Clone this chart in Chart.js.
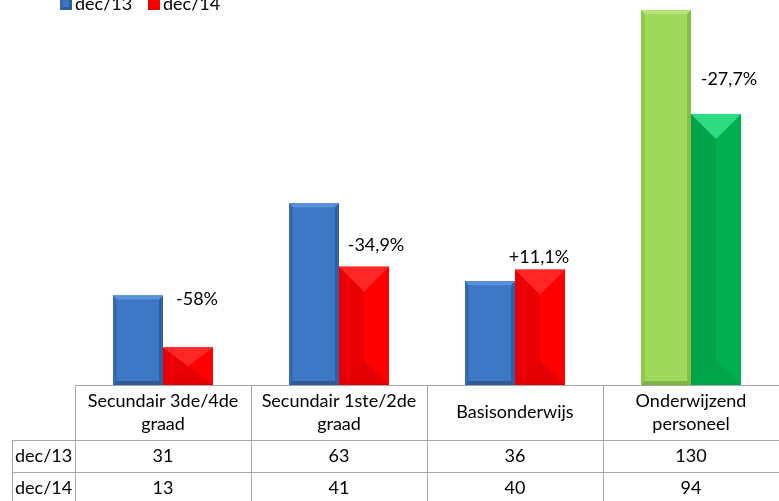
<!DOCTYPE html>
<html>
<head>
<meta charset="UTF-8">
<script src="https://cdn.jsdelivr.net/npm/chart.js"></script>
<style>
    html, body { margin: 0; padding: 0; background: #fff; }
    #wrap { width: 779px; height: 501px; position: relative; }
</style>
</head>
<body>
<div id="wrap"><canvas id="c" width="779" height="501"></canvas></div>
<script>
// gegevens
const categories = [
    ['Secundair 3de/4de', 'graad'],
    ['Secundair 1ste/2de', 'graad'],
    ['Basisonderwijs'],
    ['Onderwijzend', 'personeel']
];
const seriesNames = ['dec/13', 'dec/14'];
const dec13 = [31, 63, 36, 130];
const dec14 = [13, 41, 40, 94];
const changeLabels = ['-58%', '-34,9%', '+11,1%', '-27,7%'];

const FONT = '"Lato", "Open Sans", sans-serif';

// kleuren: [basis, boven, links, rechts, onder]
const blue = ['#3d78c6', '#5890da', '#3569b2', '#30609f', '#2e5b98'];
const red = ['#ff0000', '#ff2626', '#ea0000', '#ff0000', '#e40000'];
const lightGreen = ['#9ed95b', '#b4e47a', '#8cc84b', '#86be48', '#7fb444'];
const darkGreen = ['#00b050', '#2cdc82', '#00a24a', '#00b050', '#00a449'];
const colors0 = [blue, blue, blue, lightGreen];
const colors1 = [red, red, red, darkGreen];

// positie van de procentlabels t.o.v. de tweede balk
const labelOffsets = [[9, 48], [12, 22], [-1, 12], [13, 35]];

function bevelBar(ctx, x0, y0, x1, y1, c, b) {
    const w = x1 - x0, h = y1 - y0;
    const bx = Math.min(b, w / 2), by = Math.min(b, h / 2);
    const ix0 = x0 + bx, ix1 = x1 - bx, iy0 = y0 + by, iy1 = y1 - by;
    ctx.fillStyle = c[0];
    ctx.fillRect(x0, y0, w, h);
    const poly = (pts, col) => {
        ctx.beginPath();
        ctx.moveTo(pts[0][0], pts[0][1]);
        for (let i = 1; i < pts.length; i++) ctx.lineTo(pts[i][0], pts[i][1]);
        ctx.closePath();
        ctx.fillStyle = col;
        ctx.fill();
    };
    poly([[x0, y0], [x0, y1], [ix0, iy1], [ix0, iy0]], c[2]);
    poly([[x1, y0], [x1, y1], [ix1, iy1], [ix1, iy0]], c[3]);
    poly([[x0, y1], [x1, y1], [ix1, iy1], [ix0, iy1]], c[4]);
    poly([[x0, y0], [x1, y0], [ix1, iy0], [ix0, iy0]], c[1]);
}

const bevelPlugin = {
    id: 'bevel',
    afterDatasetsDraw(chart) {
        const ctx = chart.ctx;
        ctx.save();
        chart.data.datasets.forEach((ds, di) => {
            const meta = chart.getDatasetMeta(di);
            meta.data.forEach((el, i) => {
                const x0 = el.x - el.width / 2, x1 = el.x + el.width / 2;
                const c = di === 0 ? colors0[i] : colors1[i];
                bevelBar(ctx, x0, el.y, x1, el.base, c, di === 0 ? 4 : 25);
            });
        });
        ctx.restore();
    }
};

const tablePlugin = {
    id: 'tabel',
    afterDraw(chart) {
        const ctx = chart.ctx;
        const area = chart.chartArea;
        const xs = chart.scales.x;
        const top = area.bottom;
        const headH = 55, rowH = 32;
        const labelLeft = 12;
        const step = (area.right - area.left) / categories.length;
        ctx.save();
        ctx.strokeStyle = '#a6a6a6';
        ctx.lineWidth = 1;
        ctx.beginPath();
        // horizontale lijnen
        ctx.moveTo(area.left, top + 0.5); ctx.lineTo(area.right, top + 0.5);
        ctx.moveTo(labelLeft, top + headH + 0.5); ctx.lineTo(area.right, top + headH + 0.5);
        ctx.moveTo(labelLeft, top + headH + rowH + 0.5); ctx.lineTo(area.right, top + headH + rowH + 0.5);
        // verticale lijnen
        for (let i = 0; i <= categories.length; i++) {
            const x = Math.round(area.left + i * step) + 0.5;
            ctx.moveTo(x, top); ctx.lineTo(x, top + headH + 2 * rowH + 5);
        }
        ctx.moveTo(labelLeft + 0.5, top + headH); ctx.lineTo(labelLeft + 0.5, top + headH + 2 * rowH + 5);
        ctx.stroke();

        ctx.fillStyle = '#000';
        ctx.font = '18px ' + FONT;
        ctx.textAlign = 'center';
        ctx.textBaseline = 'middle';
        categories.forEach((lines, i) => {
            const cx = xs.getPixelForValue(i);
            const lh = 23;
            const y0 = top + headH / 2 - (lines.length - 1) * lh / 2;
            lines.forEach((t, k) => ctx.fillText(t, cx, y0 + k * lh));
            ctx.fillText(String(dec13[i]), cx, top + headH + rowH / 2);
            ctx.fillText(String(dec14[i]), cx, top + headH + rowH * 1.5);
        });
        ctx.textAlign = 'left';
        ctx.fillText(seriesNames[0], labelLeft + 3, top + headH + rowH / 2);
        ctx.fillText(seriesNames[1], labelLeft + 3, top + headH + rowH * 1.5);

        // procentlabels
        const meta1 = chart.getDatasetMeta(1);
        ctx.textAlign = 'center';
        changeLabels.forEach((t, i) => {
            const el = meta1.data[i];
            ctx.fillText(t, el.x + labelOffsets[i][0], el.y - labelOffsets[i][1]);
        });

        // legenda
        const legend = [[60, seriesNames[0], blue], [148, seriesNames[1], red]];
        legend.forEach(([lx, name, c]) => {
            bevelBar(ctx, lx, -3, lx + 12, 10, c, 3);
            ctx.fillStyle = '#000';
            ctx.textAlign = 'left';
            ctx.textBaseline = 'alphabetic';
            ctx.fillText(name, lx + 15, 9.5);
        });
        ctx.restore();
    }
};

new Chart(document.getElementById('c'), {
    type: 'bar',
    data: {
        labels: categories,
        datasets: [
            { label: seriesNames[0], data: dec13, backgroundColor: colors0.map(c => c[0]) },
            { label: seriesNames[1], data: dec14, backgroundColor: colors1.map(c => c[0]) }
        ]
    },
    options: {
        responsive: false,
        animation: false,
        layout: { padding: { left: 75, right: 0, top: 0, bottom: 116 } },
        datasets: { bar: { categoryPercentage: 100 / 176, barPercentage: 1 } },
        scales: {
            x: { display: false },
            y: { display: false, min: 0, max: 133.5 }
        },
        plugins: { legend: { display: false }, tooltip: { enabled: false } }
    },
    plugins: [bevelPlugin, tablePlugin]
});
</script>
</body>
</html>
